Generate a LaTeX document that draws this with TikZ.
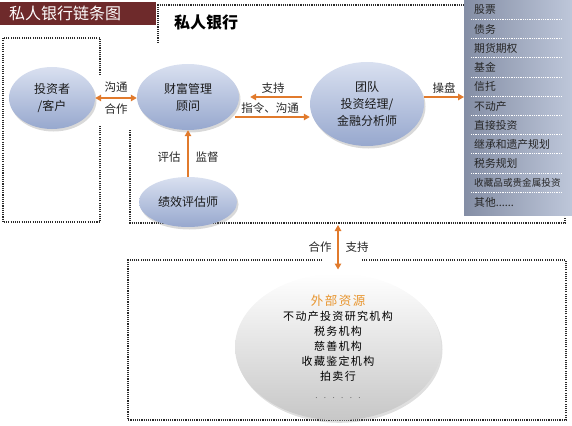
\documentclass[tikz,border=0pt]{standalone}
\usepackage{fontspec}
\setmainfont{Noto Sans CJK SC}
\usetikzlibrary{shapes.geometric,shadows,arrows.meta,calc}
\definecolor{titlered}{HTML}{6E2A2B}
\definecolor{arrorange}{HTML}{E17A2C}
\definecolor{bubtop}{HTML}{D9E0F0}
\definecolor{bubbot}{HTML}{97A8CE}
\definecolor{panell}{HTML}{848EA5}
\definecolor{panelr}{HTML}{BEC7DA}
\definecolor{dotgray}{HTML}{2B2B2B}
\definecolor{extorange}{HTML}{E8952E}
\newcommand\mysixdots{......}
\newcommand\mysmall{\fontsize{9.6pt}{13pt}\selectfont}
\begin{document}
\begin{tikzpicture}[x=1pt,y=-1pt,
 dotbox/.style={dotgray, line width=1.1pt, dash pattern=on 1.1pt off 1.1pt},
 bub/.style={ellipse, inner sep=0pt, top color=bubtop, bottom color=bubbot,
   drop shadow={opacity=0.3,shadow xshift=1.5pt,shadow yshift=-2.5pt},
   align=center, text=black!90, font=\fontsize{12pt}{17pt}\selectfont},
 arr/.style={arrorange, line width=1.3pt, -{Triangle[length=6pt,width=6.5pt]}},
 darr/.style={arrorange, line width=1.3pt, {Triangle[length=6pt,width=6.5pt]}-{Triangle[length=6pt,width=6.5pt]}},
 lab/.style={font=\fontsize{11.5pt}{14pt}\selectfont, text=black!85, inner sep=0pt},
 item/.style={font=\fontsize{10.8pt}{13pt}\selectfont, text=black!85, anchor=west, inner sep=0pt},
 sepline/.style={white, line width=0.8pt, dash pattern=on 0.8pt off 1pt},
]
\useasboundingbox (0,0) rectangle (572,425);

% dotted boxes
\draw[dotbox] (100,75) -- (100,38) -- (3,38) -- (3,222) -- (100,222) -- (100,125);
\draw[dotbox] (158,43) -- (158,5) -- (468,5);
\draw[dotbox] (130,130) -- (130,223) -- (565,223) -- (565,212);
\draw[dotbox] (322,260) -- (128,260) -- (128,420) -- (566,420) -- (566,260) -- (362,260);

% title
\node[fill=titlered, minimum height=23pt, text width=138pt, inner xsep=9pt, inner ysep=0pt,
  anchor=north west, align=left, text=white, font=\fontsize{16pt}{18pt}\selectfont] (title) at (0,2) {私人银行链条图};
\node[font=\bfseries\fontsize{16pt}{18pt}\selectfont, inner sep=0pt] (pb) at (206,22) {私人银行};

% right panel
\node[minimum width=108pt, minimum height=215pt, inner sep=0pt, left color=panell, right color=panelr,
  anchor=north west] (panel) at (464,0) {};
\foreach \i/\t in {0/股票,1/债务,2/期货期权,3/基金,4/信托,5/不动产,6/直接投资,7/继承和遗产规划,8/税务规划,9/{\mysmall 收藏品或贵金属投资},10/其他\mysixdots}{
  \node[item] (it\i) at (474,{10+19.2*\i}) {\t};
}
\foreach \i in {0,1,2,3,4,5,6,7,8,9}{
  \draw[sepline] (471,{19.4+19.2*\i}) -- (562,{19.4+19.2*\i});
}

% ellipses
\node[bub, minimum width=86pt, minimum height=62pt] (inv) at (52,98) {投资者\\/客户};
\node[bub, minimum width=102pt, minimum height=66pt] (wm) at (188,97) {财富管理\\顾问};
\node[bub, minimum width=114pt, minimum height=84pt] (team) at (367,104) {团队\\投资经理/\\金融分析师};
\node[bub, minimum width=98pt, minimum height=50pt] (perf) at (188,202) {绩效评估师};
\node[ellipse, inner sep=0pt, top color=white, bottom color=black!22, minimum width=206pt, minimum height=140pt,
  drop shadow={opacity=0.25,shadow xshift=1.5pt,shadow yshift=-2.5pt}, align=center,
  font=\fontsize{11pt}{15pt}\selectfont\addfontfeature{LetterSpace=12}] (ext) at (338,347)
  {\textcolor{extorange}{\fontsize{12.5pt}{15pt}\selectfont 外部资源}\\不动产投资研究机构\\税务机构\\慈善机构\\收藏鉴定机构\\拍卖行\\[3pt]{\fontsize{8pt}{10pt}\selectfont\addfontfeature{LetterSpace=80}\textcolor{black!60}{\mysixdots}}};

% connectors
\draw[darr] (inv.east) -- (inv.east -| wm.west);
\node[lab] (l1) at (116,87) {沟通};
\node[lab] (l2) at (116,109) {合作};

\draw[arr] ($(team.west)+(-8,-7)$) -- ($(wm.east)+(11,0)$);
\node[lab] (l3) at (273,88) {支持};
\draw[arr] ($(wm.east)+(-4,20)$) -- ($(team.west)+(0,13)$);
\node[lab] (l4) at (270,108) {指令、沟通};

\coordinate (opstart) at ($(team.east)+(0,-7)$);
\draw[arr] (opstart) -- (opstart -| panel.west);
\node[lab] (l5) at (444,88) {操盘};

\draw[arr] (perf.north) -- (wm.south);
\node[lab] (l6) at (169,157) {评估};
\node[lab] (l7) at (207,157) {监督};

\coordinate (pbb) at (338,225);
\draw[darr] (pbb) -- ($(ext.north)+(0,-4)$);
\node[lab] (l8) at (320,247) {合作};
\node[lab] (l9) at (357,247) {支持};
\end{tikzpicture}
\end{document}
